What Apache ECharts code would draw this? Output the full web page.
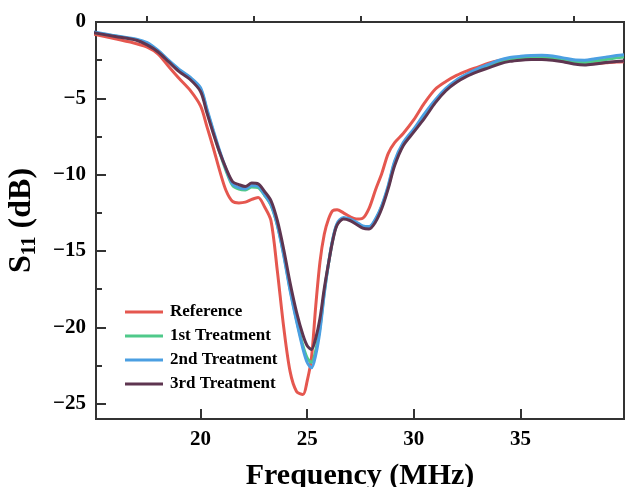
<!DOCTYPE html>
<html>
<head>
<meta charset="utf-8">
<script src="https://cdn.jsdelivr.net/npm/echarts@6/dist/echarts.min.js"></script>
<style>
html, body { margin: 0; padding: 0; background: #fff; }
#main { width: 625px; height: 487px; }
</style>
</head>
<body>
<div id="main"></div>
<script>
// frequency (MHz)
var freq = [15, 16, 17, 17.5, 18, 18.5, 19, 19.5, 20, 20.3, 20.6, 20.9, 21.2, 21.5, 21.8, 22.1, 22.4, 22.7,
  23.0, 23.3, 23.6, 23.9, 24.2, 24.5, 24.8, 25.0, 25.2, 25.4, 25.6, 25.8, 26.0, 26.2, 26.4, 26.7,
  27.0, 27.3, 27.6, 27.9, 28.2, 28.5, 28.8, 29.1, 29.5, 30.0, 30.5, 31.0, 31.5, 32.0, 32.5, 33.0,
  33.5, 34.0, 34.5, 35.0, 35.5, 36.0, 36.5, 37.0, 37.5, 38.0, 38.5, 39.0, 39.5, 39.85];

// S11 (dB)
var refS11 = [-0.79, -1.1, -1.42, -1.65, -2.08, -2.9, -3.7, -4.45, -5.5, -6.85, -8.25, -9.75, -11.05, -11.75, -11.85, -11.8, -11.62, -11.5,
  -12.1, -13.0, -16.3, -20.0, -22.9, -24.2, -24.4, -23.5, -22.0, -18.6, -15.7, -13.9, -12.9, -12.35, -12.3, -12.5,
  -12.75, -12.9, -12.85, -12.2, -11.0, -9.9, -8.6, -7.9, -7.3, -6.4, -5.3, -4.4, -3.9, -3.5, -3.2, -2.95,
  -2.7, -2.52, -2.4, -2.32, -2.27, -2.3, -2.4, -2.55, -2.7, -2.77, -2.72, -2.67, -2.62, -2.6];

var t1S11 = [-0.68, -0.92, -1.16, -1.42, -1.9, -2.55, -3.15, -3.65, -4.4, -5.8, -7.2, -8.55, -9.75, -10.7, -10.95, -11.0, -10.8, -10.85,
  -11.35, -12.0, -13.3, -15.2, -17.5, -19.5, -21.2, -22.0, -22.3, -21.5, -20.0, -17.7, -15.8, -14.25, -13.25, -12.85,
  -12.95, -13.15, -13.4, -13.45, -12.95, -12.05, -10.8, -9.2, -8.0, -7.1, -6.1, -5.2, -4.4, -3.85, -3.45, -3.12,
  -2.85, -2.6, -2.42, -2.35, -2.32, -2.3, -2.35, -2.45, -2.6, -2.65, -2.55, -2.45, -2.35, -2.3];

var t2S11 = [-0.65, -0.9, -1.12, -1.35, -1.85, -2.5, -3.1, -3.6, -4.3, -5.7, -7.1, -8.45, -9.65, -10.6, -10.85, -10.92, -10.7, -10.75,
  -11.3, -11.95, -13.3, -15.3, -17.6, -19.6, -21.4, -22.3, -22.65, -21.8, -20.2, -17.8, -15.8, -14.2, -13.2, -12.8,
  -12.9, -13.1, -13.35, -13.4, -12.9, -12.0, -10.7, -9.1, -7.9, -7.0, -6.0, -5.1, -4.35, -3.8, -3.4, -3.05,
  -2.78, -2.5, -2.33, -2.25, -2.2, -2.18, -2.22, -2.35, -2.48, -2.5, -2.4, -2.3, -2.2, -2.15];

var t3S11 = [-0.7, -0.95, -1.2, -1.5, -1.95, -2.6, -3.25, -3.75, -4.55, -5.95, -7.3, -8.55, -9.6, -10.45, -10.65, -10.78, -10.55, -10.6,
  -11.1, -11.7, -13.0, -14.9, -17.1, -19.0, -20.5, -21.2, -21.45, -20.7, -19.4, -17.45, -15.8, -14.3, -13.3, -12.9,
  -13.0, -13.25, -13.5, -13.55, -13.1, -12.2, -10.9, -9.4, -8.1, -7.2, -6.3, -5.3, -4.5, -3.95, -3.55, -3.25,
  -3.0, -2.75, -2.58, -2.5, -2.46, -2.45, -2.5, -2.6, -2.75, -2.82, -2.75, -2.65, -2.58, -2.55];

var seriesNames = ['Reference', '1st Treatment', '2nd Treatment', '3rd Treatment'];
var seriesData = [refS11, t1S11, t2S11, t3S11];
var colors = ['#E5574F', '#4FC98A', '#4B9FE2', '#5E3550'];

var xMajor = [20, 25, 30, 35];
var xMinor = [17.5, 22.5, 27.5, 32.5, 37.5];
var yMajor = [-25, -20, -15, -10, -5, 0];
var yMinor = [-22.5, -17.5, -12.5, -7.5, -2.5];

var fontFam = '"Liberation Serif", "Times New Roman", serif';
var axisColor = '#333';

function pairs(ys) {
  return freq.map(function (f, i) { return [f, ys[i]]; });
}

var series = seriesNames.map(function (n, i) {
  return {
    name: n,
    type: 'line',
    xAxisIndex: 0,
    yAxisIndex: 0,
    showSymbol: false,
    smooth: 0.3,
    data: pairs(seriesData[i]),
    lineStyle: { width: 3, color: colors[i] },
    itemStyle: { color: colors[i] },
    z: 2 + i
  };
});

var myChart = echarts.init(document.getElementById('main'));

var option = {
  animation: false,
  color: colors,
  grid: {
    left: 96, right: 1, top: 22, bottom: 68,
    show: true, borderColor: axisColor, borderWidth: 2,
    containLabel: false,
    outerBoundsMode: 'none'
  },
  legend: {
    orient: 'vertical',
    left: 120,
    top: 297,
    icon: 'rect',
    itemWidth: 38,
    itemHeight: 3,
    itemGap: 4,
    textStyle: { fontFamily: fontFam, fontWeight: 'bold', fontSize: 17, color: '#000', lineHeight: 20, padding: [0, 0, 0, 2] },
    data: seriesNames
  },
  xAxis: [{
    type: 'value',
    min: 15.1, max: 39.85,
    name: 'Frequency (MHz)',
    nameLocation: 'middle',
    nameGap: 42,
    nameTextStyle: { fontFamily: fontFam, fontWeight: 'bold', fontSize: 30, color: '#000' },
    axisLine: { show: true, onZero: false, lineStyle: { color: axisColor, width: 2 } },
    axisTick: { show: true, inside: true, length: 10, customValues: xMajor, lineStyle: { color: axisColor, width: 2 } },
    axisLabel: { customValues: xMajor, margin: 10, fontFamily: fontFam, fontWeight: 'bold', fontSize: 21, color: '#000' },
    splitLine: { show: false }
  }, {
    type: 'value',
    min: 15.1, max: 39.85,
    position: 'bottom',
    axisLine: { show: false },
    axisTick: { show: true, inside: true, length: 6, customValues: xMinor, lineStyle: { color: axisColor, width: 2 } },
    axisLabel: { show: false },
    splitLine: { show: false }
  }],
  yAxis: [{
    type: 'value',
    min: -26, max: 0,
    name: '{s|S}{sub|11}{s| (dB)}',
    nameLocation: 'middle',
    nameRotate: 90,
    nameGap: 44,
    nameTextStyle: {
      rich: {
        s: { fontFamily: fontFam, fontWeight: 'bold', fontSize: 32, color: '#000', lineHeight: 40, verticalAlign: 'middle' },
        sub: { fontFamily: fontFam, fontWeight: 'bold', fontSize: 20, color: '#000', lineHeight: 40, verticalAlign: 'bottom', padding: [0, 0, 2, 0] }
      }
    },
    axisLine: { show: true, onZero: false, lineStyle: { color: axisColor, width: 2 } },
    axisTick: { show: true, inside: true, length: 10, customValues: yMajor, lineStyle: { color: axisColor, width: 2 } },
    axisLabel: {
      customValues: yMajor, margin: 10,
      fontFamily: fontFam, fontWeight: 'bold', fontSize: 21, color: '#000',
      formatter: function (v) { return String(v).replace('-', '\u2212'); }
    },
    splitLine: { show: false }
  }, {
    type: 'value',
    min: -26, max: 0,
    position: 'left',
    axisLine: { show: false },
    axisTick: { show: true, inside: true, length: 6, customValues: yMinor, lineStyle: { color: axisColor, width: 2 } },
    axisLabel: { show: false },
    splitLine: { show: false }
  }],
  series: series
};

myChart.setOption(option);
</script>
</body>
</html>
